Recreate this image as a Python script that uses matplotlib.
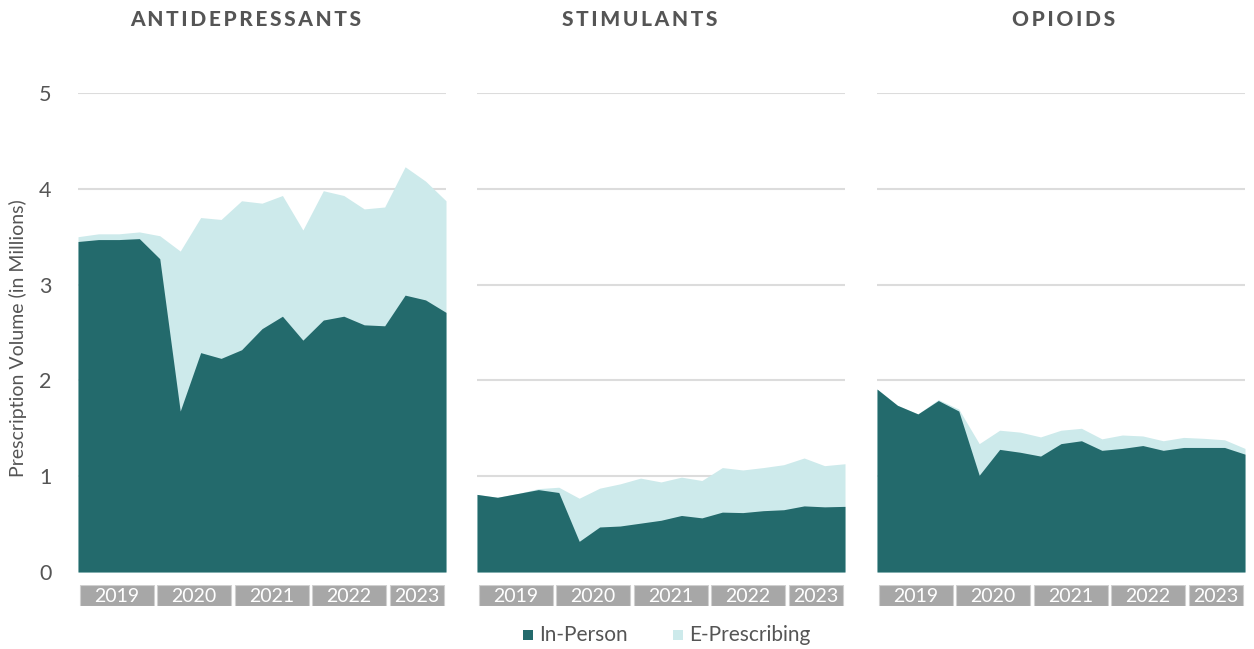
import numpy as np
import matplotlib.pyplot as plt
from matplotlib.patches import Rectangle

plt.rcParams['font.family'] = ['Lato', 'DejaVu Sans']

# quarterly data, 2019 Q1 .. 2023 Q3
years = ["2019", "2020", "2021", "2022", "2023"]
quarters_per_year = [4, 4, 4, 4, 3]
panel_titles = ["ANTIDEPRESSANTS", "STIMULANTS", "OPIOIDS"]

antidep_inperson = [3.45, 3.47, 3.47, 3.48, 3.27, 1.68, 2.29, 2.23, 2.32, 2.54,
                    2.67, 2.42, 2.63, 2.67, 2.58, 2.57, 2.89, 2.84, 2.71]
antidep_total = [3.50, 3.53, 3.53, 3.55, 3.51, 3.35, 3.70, 3.68, 3.875, 3.85,
                 3.93, 3.57, 3.98, 3.93, 3.79, 3.81, 4.23, 4.08, 3.875]

stim_inperson = [0.81, 0.78, 0.82, 0.86, 0.83, 0.32, 0.47, 0.48, 0.51, 0.54,
                 0.59, 0.565, 0.625, 0.62, 0.64, 0.65, 0.69, 0.68, 0.685]
stim_total = [0.81, 0.78, 0.82, 0.87, 0.885, 0.77, 0.875, 0.92, 0.98, 0.94,
              0.99, 0.955, 1.09, 1.065, 1.09, 1.12, 1.19, 1.11, 1.13]

opioid_inperson = [1.91, 1.74, 1.65, 1.79, 1.68, 1.01, 1.28, 1.25, 1.21, 1.34,
                   1.37, 1.27, 1.29, 1.32, 1.27, 1.30, 1.30, 1.30, 1.23]
opioid_total = [1.91, 1.74, 1.65, 1.80, 1.70, 1.34, 1.48, 1.46, 1.41, 1.48,
                1.50, 1.39, 1.43, 1.42, 1.37, 1.405, 1.395, 1.38, 1.29]

inperson = [antidep_inperson, stim_inperson, opioid_inperson]
total = [antidep_total, stim_total, opioid_total]

DARK = "#236a6c"
LIGHT = "#cdeaeb"
GRID = "#dcdcdc"
TXT = "#555555"
BAND = "#a7a7a7"

fig = plt.figure(figsize=(12.54, 6.49), dpi=100)

lefts = [78, 477, 877]
title_x = [246, 640, 1064]   # title centres in px, not quite panel centres
w_px = 368
W, H = 1254, 649

n = len(antidep_total)
x = np.arange(n)

for i in range(3):
    ax = fig.add_axes([lefts[i] / W, 1 - 572 / H, w_px / W, (572 - 93) / H])
    ax.fill_between(x, 0, total[i], color=LIGHT, lw=0)
    ax.fill_between(x, 0, inperson[i], color=DARK, lw=0)
    ax.set_xlim(0, n - 1)
    ax.set_ylim(0, 5)
    ax.set_yticks([1, 2, 3, 4, 5])
    ax.yaxis.grid(True, color=GRID, lw=1.5)
    ax.set_axisbelow(True)
    for s in ax.spines.values():
        s.set_visible(False)
    ax.set_xticks([])
    ax.tick_params(axis='y', length=0, pad=19, labelsize=15.5, labelcolor=TXT)
    if i == 0:
        ax.set_yticks([0, 1, 2, 3, 4, 5])
        ax.yaxis.get_gridlines()[0].set_visible(False)
    else:
        ax.set_yticklabels([])
    # spaced-out bold titles
    fig.text(title_x[i] / W, 1 - 19 / H, "\u2009".join(panel_titles[i]),
             ha='center', va='center', fontsize=15, fontweight='black', color=TXT)

    # year bands under the panel
    bx = fig.add_axes([lefts[i] / W, 1 - 606 / H, w_px / W, 21 / H])
    bx.set_xlim(0, n - 1)
    bx.set_ylim(0, 1)
    bx.axis('off')
    slot = (n - 1) / n
    start = 0
    for yr, q in zip(years, quarters_per_year):
        x0 = start * slot
        x1 = (start + q) * slot
        bx.add_patch(Rectangle((x0 + 0.08, 0), x1 - x0 - 0.16, 1,
                               facecolor=BAND, edgecolor="#d0d0d0", lw=0.8))
        bx.text((x0 + x1) / 2, 0.45, yr, ha='center', va='center',
                fontsize=14, color='white')
        start += q

fig.text(18 / W, 1 - 338 / H, "Prescription Volume (in Millions)", fontsize=14,
         color=TXT, rotation=90, ha='center', va='center')

# legend
fig.patches.append(Rectangle((523 / W, 1 - 640 / H), 10 / W, 10 / H,
                             transform=fig.transFigure, facecolor=DARK, lw=0))
fig.text(539 / W, 1 - 635 / H, "In-Person", fontsize=15, color=TXT, va='center')
fig.patches.append(Rectangle((673 / W, 1 - 640 / H), 10 / W, 10 / H,
                             transform=fig.transFigure, facecolor=LIGHT, lw=0))
fig.text(689 / W, 1 - 635 / H, "E-Prescribing", fontsize=15, color=TXT, va='center')

fig.savefig("out.png", dpi=100)
